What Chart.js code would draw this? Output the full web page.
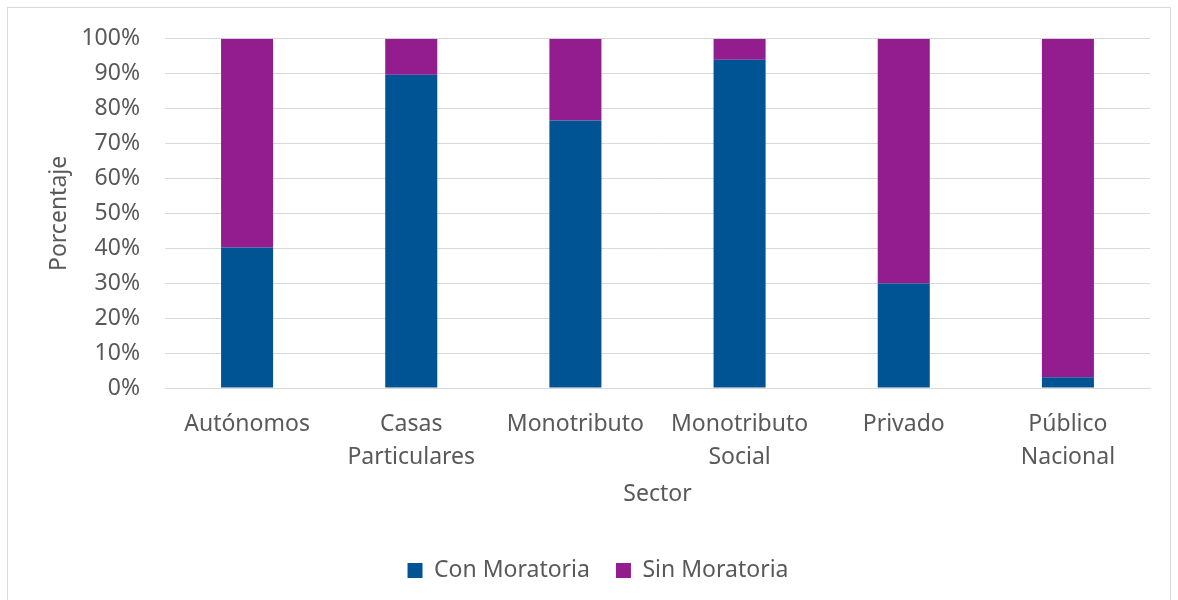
<!DOCTYPE html>
<html><head><meta charset="utf-8">
<script src="https://cdn.jsdelivr.net/npm/chart.js@4"></script>
<style>
html,body{margin:0;padding:0;background:#fff;}
#wrap{position:absolute;left:0;top:0;width:1178px;height:600px;}
#frame{position:absolute;left:7px;top:7px;width:1164px;height:600px;border:1px solid #d9d9d9;box-sizing:border-box;}
canvas{position:absolute;left:0;top:0;}
</style></head><body>
<div id="wrap"><div id="frame"></div><canvas id="c" width="1178" height="600"></canvas></div>
<script>
const categories = [["Autónomos"], ["Casas", "Particulares"], ["Monotributo"], ["Monotributo", "Social"], ["Privado"], ["Público", "Nacional"]];
const conMoratoria = [40.2, 89.7, 76.6, 94.0, 29.9, 3.1];
const sinMoratoria = [59.8, 10.3, 23.4, 6.0, 70.1, 96.9];
const yTicks = [0,10,20,30,40,50,60,70,80,90,100];

const txt = '#595959';
const fam = "'Noto Sans', sans-serif";
const fs = 23;
Chart.defaults.font.family = fam;
Chart.defaults.color = txt;
new Chart(document.getElementById('c'), {
  type: 'bar',
  data: {
    labels: categories,
    datasets: [
      {label: 'Con Moratoria', data: conMoratoria, backgroundColor: '#005493', barPercentage: 0.317, categoryPercentage: 1},
      {label: 'Sin Moratoria', data: sinMoratoria, backgroundColor: '#931D8E', barPercentage: 0.317, categoryPercentage: 1}
    ]
  },
  options: {
    responsive: false,
    animation: false,
    layout: {padding: {left: 18, right: 0, top: 26, bottom: 8}},
    plugins: {
      legend: {position: 'bottom', labels: {boxWidth: 15, boxHeight: 15, font: {size: fs}, color: txt, padding: 26}},
      tooltip: {enabled: false}
    },
    scales: {
      x: {
        stacked: true,
        grid: {display: false, drawTicks: false},
        border: {display: true, color: '#d9d9d9'},
        ticks: {font: {size: fs, lineHeight: 1.43}, color: txt, padding: 20, maxRotation: 0, autoSkip: false},
        title: {display: true, text: 'Sector', font: {size: fs}, color: txt, padding: {top: 4, bottom: 25}},
        afterFit: s => { s.height = 145; }
      },
      y: {
        stacked: true,
        min: 0, max: 100,
        afterBuildTicks: s => { s.ticks = yTicks.map(v => ({value: v})); },
        grid: {color: '#d9d9d9', drawTicks: false},
        border: {display: false},
        ticks: {font: {size: fs}, color: txt, padding: 25, callback: v => v + '%'},
        title: {display: true, text: 'Porcentaje', font: {size: fs}, color: txt, padding: {top: 28, bottom: 0}},
        afterFit: s => { s.width = 147; }
      },
      yRight: {
        position: 'right',
        display: true,
        min: 0, max: 100,
        grid: {display: false, drawTicks: false},
        border: {display: false},
        ticks: {display: false},
        afterFit: s => { s.width = 28; }
      }
    }
  }
});
</script></body></html>
